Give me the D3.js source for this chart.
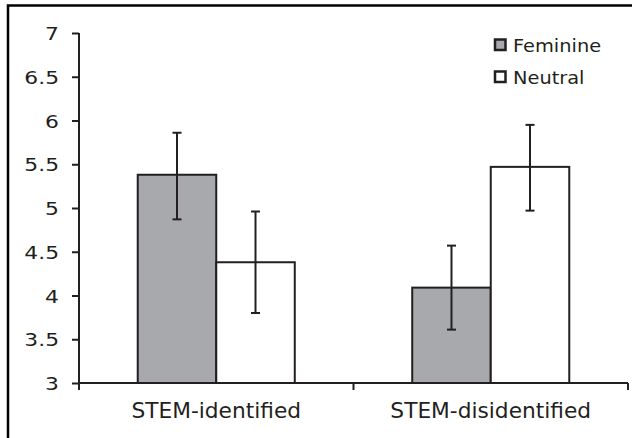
<!DOCTYPE html>
<html>
<head>
<meta charset="utf-8">
<script src="https://cdn.jsdelivr.net/npm/d3@7/dist/d3.min.js"></script>
<style>
  html, body { margin: 0; padding: 0; background: #fff; }
  svg { display: block; }
  text { font-family: "DejaVu Sans", Verdana, sans-serif; fill: #231f20; }
</style>
</head>
<body>
<svg id="chart" width="636" height="438"></svg>
<script>
// Data
const categories = ["STEM-identified", "STEM-disidentified"];
const seriesNames = ["Feminine", "Neutral"];
const feminineMeans = [5.38, 4.09];
const neutralMeans = [4.38, 5.47];
const feminineErrLow = [4.87, 3.61];
const feminineErrHigh = [5.86, 4.57];
const neutralErrLow = [3.80, 4.97];
const neutralErrHigh = [4.96, 5.95];
const yTicks = [3, 3.5, 4, 4.5, 5, 5.5, 6, 6.5, 7];

const colors = { Feminine: "#a7a9ac", Neutral: "#ffffff" };
const ink = "#231f20";
const wide = 1.18; // horizontal stretch of the label glyphs

const svg = d3.select("#chart");

// outer frame (top and left edges)
svg.append("path")
  .attr("d", "M8,438 L8,5.5 L632,5.5")
  .attr("fill", "none").attr("stroke", "#000").attr("stroke-width", 2.5);

const margin = { left: 79, right: 8, top: 33, bottom: 55 };
const W = 636, H = 438;
const x0 = d3.scaleBand().domain(categories).range([margin.left, W - margin.right]).paddingInner(0).paddingOuter(0);
const x1 = d3.scaleBand().domain(seriesNames).range([0, x0.bandwidth()]).paddingInner(0).paddingOuter(0.748);
const y = d3.scaleLinear().domain([3, 7]).range([H - margin.bottom, margin.top]);

const rows = categories.map((c, i) => ({
  cat: c,
  vals: [
    { s: "Feminine", v: feminineMeans[i], lo: feminineErrLow[i], hi: feminineErrHigh[i] },
    { s: "Neutral", v: neutralMeans[i], lo: neutralErrLow[i], hi: neutralErrHigh[i] }
  ]
}));

// bars
const g = svg.append("g");
rows.forEach(r => {
  r.vals.forEach(d => {
    const bx = x0(r.cat) + x1(d.s);
    g.append("rect")
      .attr("x", bx).attr("y", y(d.v))
      .attr("width", x1.bandwidth()).attr("height", y(3) - y(d.v))
      .attr("fill", colors[d.s]).attr("stroke", ink).attr("stroke-width", 2);
  });
});

// error bars
rows.forEach(r => {
  r.vals.forEach(d => {
    const cx = x0(r.cat) + x1(d.s) + x1.bandwidth() / 2;
    g.append("line").attr("x1", cx).attr("x2", cx).attr("y1", y(d.hi)).attr("y2", y(d.lo))
      .attr("stroke", ink).attr("stroke-width", 2);
    [d.hi, d.lo].forEach(v => {
      g.append("line").attr("x1", cx - 4.5).attr("x2", cx + 4.5).attr("y1", y(v)).attr("y2", y(v))
        .attr("stroke", ink).attr("stroke-width", 2);
    });
  });
});

// y axis
const yAxis = d3.axisLeft(y).tickValues(yTicks).tickSize(7).tickPadding(13).tickFormat(d3.format("~g"));
const ya = svg.append("g").attr("transform", `translate(${margin.left},0)`).call(yAxis);
ya.select(".domain").attr("d", `M0,${y(7)}H0V${y(3)}`);
ya.selectAll("path, line").attr("stroke", ink).attr("stroke-width", 2);
ya.selectAll("text")
  .attr("font-size", 18.5).attr("fill", ink)
  .attr("x", -20 / wide).attr("dy", "0.36em")
  .attr("transform", `scale(${wide},1)`)
  .style("font-family", "DejaVu Sans, Verdana, sans-serif");

// x axis line with boundary ticks
const xa = svg.append("g");
xa.append("line").attr("x1", margin.left).attr("x2", W - margin.right)
  .attr("y1", y(3)).attr("y2", y(3)).attr("stroke", ink).attr("stroke-width", 2);
const bounds = [x0(categories[0]), x0(categories[1]), x0(categories[1]) + x0.bandwidth()];
bounds.forEach(bx => {
  xa.append("line").attr("x1", bx).attr("x2", bx).attr("y1", y(3)).attr("y2", y(3) + 7)
    .attr("stroke", ink).attr("stroke-width", 2);
});
categories.forEach(c => {
  xa.append("text")
    .attr("transform", `translate(${x0(c) + x0.bandwidth() / 2},${y(3) + 35}) scale(1.06,1)`)
    .attr("text-anchor", "middle").attr("font-size", 20.5).text(c);
});

// legend
const lg = svg.append("g").attr("transform", "translate(494,38.5)");
seriesNames.forEach((s, i) => {
  const row = lg.append("g").attr("transform", `translate(0,${i * 32})`);
  row.append("rect").attr("x", 1).attr("y", 1).attr("width", 10.5).attr("height", 10.5)
    .attr("fill", colors[s]).attr("stroke", ink).attr("stroke-width", 2.5);
  row.append("text")
    .attr("transform", `translate(19,13) scale(1.14,1)`)
    .attr("font-size", 17).text(s);
});
</script>
</body>
</html>
